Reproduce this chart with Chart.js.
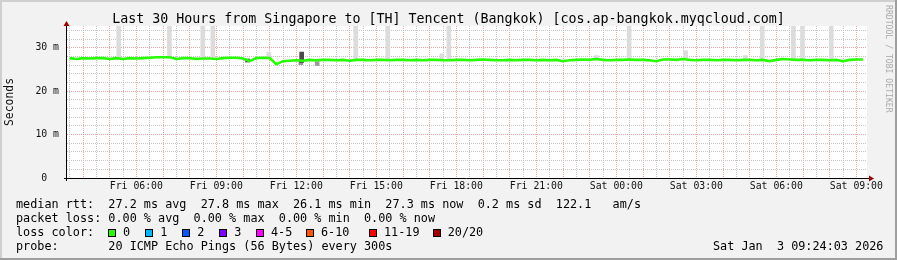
<!DOCTYPE html>
<html>
<head>
<meta charset="utf-8">
<script src="https://cdn.jsdelivr.net/npm/chart.js@4/dist/chart.umd.min.js"></script>
<style>
  html, body { margin: 0; padding: 0; overflow: hidden; background: #f2f2f2; }
  #wrap { position: relative; width: 897px; height: 260px; }
  #c { position: absolute; left: 0; top: 0; }
  .t { position: absolute; font-family: 'DejaVu Sans Mono', monospace; color: #000; white-space: pre; }
  #title { left: 0; width: 897px; top: 11.4px; text-align: center; font-size: 13.3px; line-height: 16px; }
  .foot { left: 16px; font-size: 11.8px; line-height: 14px; }
  .box { position: absolute; width: 6px; height: 6px; border: 1px solid #000; }
  #rrd { left: 893.6px; top: 5px; font-size: 8.15px; line-height: 10px; color: #aaaaaa; transform-origin: 0 0; transform: rotate(90deg); }
</style>
</head>
<body>
<div id="wrap">
  <canvas id="c" width="897" height="260"></canvas>
  <div class="t" id="title">Last 30 Hours from Singapore to [TH] Tencent (Bangkok) [cos.ap-bangkok.myqcloud.com]</div>
  <div class="t" id="rrd">RRDTOOL / TOBI OETIKER</div>
  <div class="t foot" id="f1" style="top:196.6px"></div>
  <div class="t foot" id="f2" style="top:210.6px"></div>
  <div class="t foot" id="f3" style="top:224.6px"></div>
  <div class="t foot" id="f4" style="top:238.6px"></div>
  <div class="t foot" id="fdate" style="top:238.6px;left:713px"></div>
  <div id="legend"></div>
</div>
<script>
// ---------------- data ----------------
const chartTitle = 'Last 30 Hours from Singapore to [TH] Tencent (Bangkok) [cos.ap-bangkok.myqcloud.com]';
const axisTitle = 'Seconds';
// x axis: hours since Fri 00:00
const rangeStartHour = 3.4;   // Fri 03:24
const rangeEndHour = 33.4;    // Sat 09:24
const tickHours = [6, 9, 12, 15, 18, 21, 24, 27, 30, 33];
const tickLabels = ['Fri 06:00', 'Fri 09:00', 'Fri 12:00', 'Fri 15:00', 'Fri 18:00', 'Fri 21:00', 'Sat 00:00', 'Sat 03:00', 'Sat 06:00', 'Sat 09:00'];
const yTickValues = [0, 10, 20, 30];
const yTickLabels = ['0  ', '10 m', '20 m', '30 m'];
const yMax = 35;

// median RTT (ms), every 15 minutes starting Fri 03:30
const rttStartHour = 3.5;
const rttStepHours = 0.25;
const medianRtt = [
  27.6, 27.4, 27.6, 27.5, 27.6, 27.6, 27.4, 27.6, 27.4, 27.6,
  27.5, 27.6, 27.7, 27.8, 27.8, 27.8, 27.4, 27.6, 27.6, 27.4,
  27.5, 27.5, 27.4, 27.6, 27.7, 27.7, 27.5, 26.9, 27.6, 27.7,
  27.6, 26.2, 26.9, 27.0, 27.1, 27.0, 27.2, 27.1, 27.2, 27.2,
  27.1, 27.2, 27.0, 27.2, 27.2, 27.1, 27.2, 27.2, 27.1, 27.2,
  27.2, 27.1, 27.2, 27.1, 27.2, 27.2, 27.1, 27.1, 27.2, 27.2,
  27.1, 27.2, 27.3, 27.2, 27.1, 27.1, 27.2, 27.1, 27.2, 27.2,
  27.1, 27.2, 27.1, 27.2, 26.9, 27.1, 27.2, 27.3, 27.2, 27.4,
  27.2, 27.1, 27.2, 27.2, 27.3, 27.2, 27.2, 27.1, 26.9, 27.3,
  27.3, 27.2, 27.4, 27.2, 27.1, 27.2, 27.2, 27.1, 27.2, 27.2,
  27.1, 27.2, 27.2, 27.1, 27.2, 26.9, 27.2, 27.4, 27.3, 27.2,
  27.2, 27.1, 27.2, 27.2, 27.1, 27.2, 26.9, 27.2, 27.3, 27.3
];

// light smoke (spread of the 20 pings), hours / low ms / high ms
const smokeLightHours = [5.34, 7.24, 8.49, 8.87, 10.97, 14.23, 15.43, 17.46, 17.72, 23.26, 24.48, 26.60, 28.84, 29.47, 30.64, 30.98, 32.06];
const smokeLightLow   = [27.5, 27.7, 27.5, 27.5, 27.6, 27.2, 27.2, 27.2, 27.2, 27.3, 27.2, 27.3, 27.2, 27.2, 27.2, 27.2, 27.2];
const smokeLightHigh  = [36.0, 36.0, 36.0, 36.0, 29.0, 36.0, 36.0, 28.6, 36.0, 28.2, 36.0, 29.3, 28.2, 36.0, 36.0, 36.0, 36.0];
// medium smoke
const smokeMidHours = [12.17, 12.78];
const smokeMidLow   = [26.1, 25.9];
const smokeMidHigh  = [27.3, 26.8];
// dark smoke
const smokeDarkHours = [10.17, 12.20];
const smokeDarkLow   = [26.7, 26.6];
const smokeDarkHigh  = [27.4, 29.0];

// footer
const statLine1 = 'median rtt:  27.2 ms avg  27.8 ms max  26.1 ms min  27.3 ms now  0.2 ms sd  122.1   am/s';
const statLine2 = 'packet loss: 0.00 % avg  0.00 % max  0.00 % min  0.00 % now';
const lossLabelText = 'loss color:';
const lossLabels = ['0', '1', '2', '3', '4-5', '6-10', '11-19', '20/20'];
const lossColors = ['#26ff00', '#00b8ff', '#0059ff', '#7e00ff', '#ff00ff', '#ff5500', '#ff0000', '#a10000'];
const probeLine = 'probe:       20 ICMP Echo Pings (56 Bytes) every 300s';
const dateText = 'Sat Jan  3 09:24:03 2026';

// ---------------- layout (not data) ----------------
const legendBoxX = [108, 145.3, 182.3, 219.3, 256, 306, 369, 432.7];

document.getElementById('title').textContent = chartTitle;
document.getElementById('f1').textContent = statLine1;
document.getElementById('f2').textContent = statLine2;
document.getElementById('f3').textContent = lossLabelText;
document.getElementById('f4').textContent = probeLine;
document.getElementById('fdate').textContent = dateText;
const legend = document.getElementById('legend');
lossLabels.forEach((lab, i) => {
  const b = document.createElement('div');
  b.className = 'box';
  b.style.left = legendBoxX[i] + 'px';
  b.style.top = '228.5px';
  b.style.background = lossColors[i];
  legend.appendChild(b);
  const t = document.createElement('div');
  t.className = 't foot';
  t.style.left = (legendBoxX[i] + 15) + 'px';
  t.style.top = '224.6px';
  t.textContent = lab;
  legend.appendChild(t);
});

const FONT = "'DejaVu Sans Mono', monospace";

const linePts = medianRtt.map((v, i) => ({ x: rttStartHour + i * rttStepHours, y: v }));
const mkBars = (hs, lo, hi) => hs.map((h, i) => ({ x: h, y: [lo[i], hi[i]] }));

const framePlugin = {
  id: 'frame',
  beforeDraw(chart) {
    const { ctx, chartArea: a, width, height } = chart;
    ctx.save();
    ctx.fillStyle = '#f2f2f2';
    ctx.fillRect(0, 0, width, height);
    ctx.fillStyle = '#ffffff';
    ctx.fillRect(a.left, a.top, a.right - a.left, a.bottom - a.top);
    // bevel
    ctx.fillStyle = '#cfcfcf';
    ctx.fillRect(0, 0, width, 2);
    ctx.fillRect(0, 0, 2, height);
    ctx.fillStyle = '#9e9e9e';
    ctx.fillRect(0, height - 2, width, 2);
    ctx.fillRect(width - 2, 0, 2, height);
    ctx.restore();
  },
  afterDatasetsDraw(chart) {
    const { ctx, chartArea: a } = chart;
    ctx.save();
    ctx.strokeStyle = '#000';
    ctx.lineWidth = 1;
    ctx.beginPath();
    ctx.moveTo(a.left - 3, a.bottom + 0.5);
    ctx.lineTo(a.right + 2, a.bottom + 0.5);
    ctx.moveTo(a.left - 0.5, a.bottom + 3);
    ctx.lineTo(a.left - 0.5, a.top);
    ctx.stroke();
    ctx.fillStyle = '#a00000';
    ctx.beginPath();
    ctx.moveTo(a.left - 3.5, a.top);
    ctx.lineTo(a.left + 2.5, a.top);
    ctx.lineTo(a.left - 0.5, a.top - 5);
    ctx.closePath();
    ctx.fill();
    ctx.beginPath();
    ctx.moveTo(a.right + 2, a.bottom - 2.5);
    ctx.lineTo(a.right + 2, a.bottom + 3.5);
    ctx.lineTo(a.right + 7, a.bottom + 0.5);
    ctx.closePath();
    ctx.fill();
    ctx.restore();
  }
};

new Chart(document.getElementById('c'), {
  type: 'line',
  data: {
    datasets: [
      {
        type: 'line', label: 'median rtt', data: linePts, order: 0,
        borderColor: '#26ff00', borderWidth: 2.6, pointRadius: 0, tension: 0,
        fill: false, borderCapStyle: 'butt', borderJoinStyle: 'miter'
      },
      {
        type: 'bar', label: 'smoke dark', data: mkBars(smokeDarkHours, smokeDarkLow, smokeDarkHigh), order: 1,
        backgroundColor: '#4a4a4a', barThickness: 4, grouped: false, borderWidth: 0
      },
      {
        type: 'bar', label: 'smoke mid', data: mkBars(smokeMidHours, smokeMidLow, smokeMidHigh), order: 2,
        backgroundColor: '#9a9a9a', barThickness: 4, grouped: false, borderWidth: 0
      },
      {
        type: 'bar', label: 'smoke light', data: mkBars(smokeLightHours, smokeLightLow, smokeLightHigh), order: 3,
        backgroundColor: '#dcdcdc', barThickness: 4, grouped: false, borderWidth: 0
      }
    ]
  },
  options: {
    responsive: false,
    animation: false,
    devicePixelRatio: 1,
    layout: { padding: { left: 0, top: 26, right: 30, bottom: 0 } },
    plugins: { legend: { display: false }, tooltip: { enabled: false }, title: { display: false } },
    scales: {
      x: {
        type: 'linear', min: rangeStartHour, max: rangeEndHour, offset: false,
        afterFit(s) { s.height = 82; },
        afterBuildTicks(s) {
          const t = [];
          for (let v = Math.ceil(rangeStartHour * 2) / 2; v <= rangeEndHour; v += 0.5) t.push({ value: v });
          s.ticks = t;
        },
        ticks: {
          autoSkip: false, maxRotation: 0, minRotation: 0, padding: 3,
          color: '#111', font: { family: FONT, size: 9.8 },
          callback(v) { const k = tickHours.indexOf(v); return k >= 0 ? tickLabels[k] : ''; }
        },
        grid: {
          offset: false, drawTicks: false, lineWidth: 1,
          color(ctx) { return ctx.tick && Number.isInteger(ctx.tick.value) ? '#f2a3a3' : '#c6c6c6'; }
        },
        border: { display: false, dash: [1, 1] }
      },
      y: {
        type: 'linear', min: 0, max: yMax,
        afterFit(s) { s.width = 67; },
        afterBuildTicks(s) {
          const t = [];
          for (let v = 0; v < yMax; v += 2) t.push({ value: v });
          s.ticks = t;
        },
        ticks: {
          autoSkip: false, padding: 8, color: '#111', font: { family: FONT, size: 9.8 },
          callback(v) { const k = yTickValues.indexOf(v); return k >= 0 ? yTickLabels[k] : ''; }
        },
        grid: {
          drawTicks: false, lineWidth: 1,
          color(ctx) { return ctx.tick && ctx.tick.value % 10 === 0 ? '#f2a3a3' : '#c6c6c6'; }
        },
        border: { display: false, dash: [1, 1] },
        title: { display: true, text: axisTitle, color: '#111', font: { family: FONT, size: 11.4 }, padding: { top: 3, bottom: 0 } }
      }
    }
  },
  plugins: [framePlugin]
});
</script>
</body>
</html>
